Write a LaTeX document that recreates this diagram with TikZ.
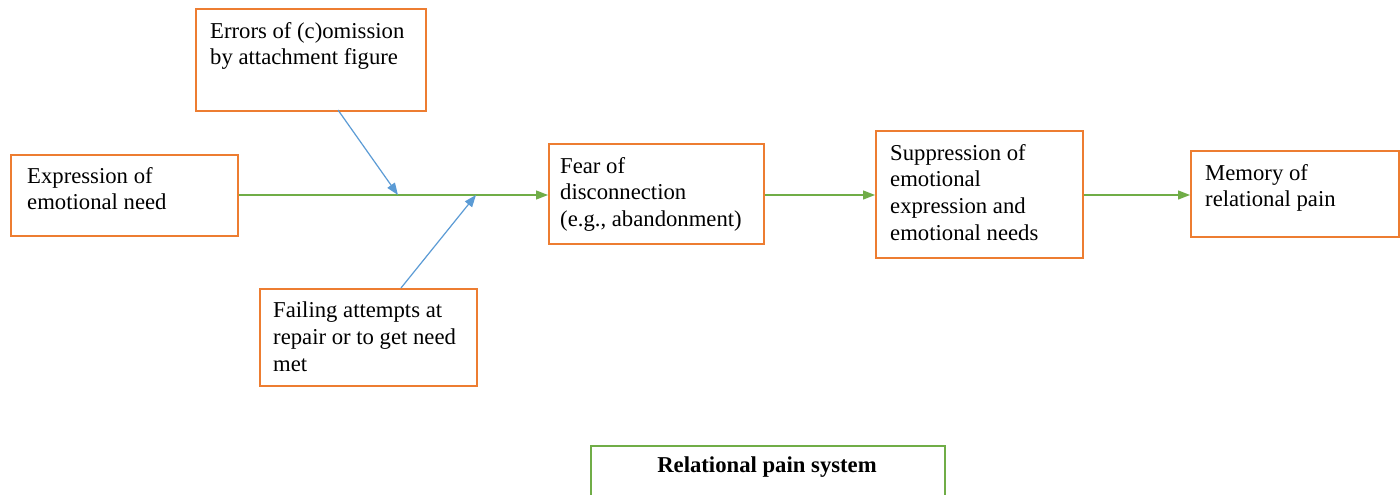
\documentclass[tikz,border=0pt]{standalone}
\usepackage{fontspec}
\setmainfont{Liberation Serif}
\usetikzlibrary{arrows.meta,calc}
\definecolor{boxorange}{HTML}{ED7D31}
\definecolor{arrgreen}{HTML}{70AD47}
\definecolor{arrblue}{HTML}{5B9BD5}
\tikzset{
  box/.style={draw=boxorange, line width=1.8pt, anchor=north west, inner sep=0pt},
  sysbox/.style={draw=arrgreen, line width=1.8pt, anchor=north west, inner sep=0pt},
  txt/.style={anchor=north west, inner sep=0pt, align=left, font=\fontsize{22.7}{26.7}\selectfont},
  garrow/.style={draw=arrgreen, line width=1.3pt, -{Triangle[length=12pt,width=9pt]}},
  barrow/.style={draw=arrblue, line width=1.2pt, -{Triangle[length=12pt,width=9pt]}},
}
\begin{document}
\begin{tikzpicture}[x=1pt,y=-1pt]
\clip (0,0) rectangle (1400,495);
\fill[white] (0,0) rectangle (1400,495);
% boxes
\node[box, minimum width=230pt, minimum height=102pt] (err) at (195,8) {};
\node[box, minimum width=227pt, minimum height=81pt] (expr) at (10,154) {};
\node[box, minimum width=215pt, minimum height=100pt] (fear) at (548,143) {};
\node[box, minimum width=207pt, minimum height=127pt] (supp) at (875,130) {};
\node[box, minimum width=208pt, minimum height=86pt] (mem) at (1190,150) {};
\node[box, minimum width=217pt, minimum height=97pt] (fail) at (259,288) {};
\node[sysbox, minimum width=354pt, minimum height=80pt] (sys) at (590,445) {};
% texts
\node[txt] (errT) at ($(err.north west)+(15,14)$) {Errors of (c)omission\\by attachment figure};
\node[txt] (exprT) at ($(expr.north west)+(17,13)$) {Expression of\\emotional need};
\node[txt] (fearT) at ($(fear.north west)+(12,14)$) {Fear of\\disconnection\\(e.g., abandonment)};
\node[txt] (suppT) at ($(supp.north west)+(15,14)$) {Suppression of\\emotional\\expression and\\emotional needs};
\node[txt] (memT) at ($(mem.north west)+(15,14)$) {Memory of\\relational pain};
\node[txt] (failT) at ($(fail.north west)+(14,14)$) {Failing attempts at\\repair or to get need\\met};
\node[anchor=center, inner sep=0pt, font=\fontsize{22.7}{26.7}\selectfont\bfseries] (sysT) at (767,467) {Relational pain system};
% connector points
\coordinate (m1) at (398,195);
\coordinate (m2) at (476,195);
\coordinate (errOut) at (338,110);
\coordinate (failOut) at (401,288);
% arrows
\draw[garrow] (expr.east |- m1) -- (fear.west |- m1);
\draw[barrow] (errOut) -- (m1);
\draw[barrow] (failOut) -- (m2);
\draw[garrow] (fear.east |- m1) -- (supp.west |- m1);
\draw[garrow] (supp.east |- m1) -- (mem.west |- m1);
\end{tikzpicture}
\end{document}
